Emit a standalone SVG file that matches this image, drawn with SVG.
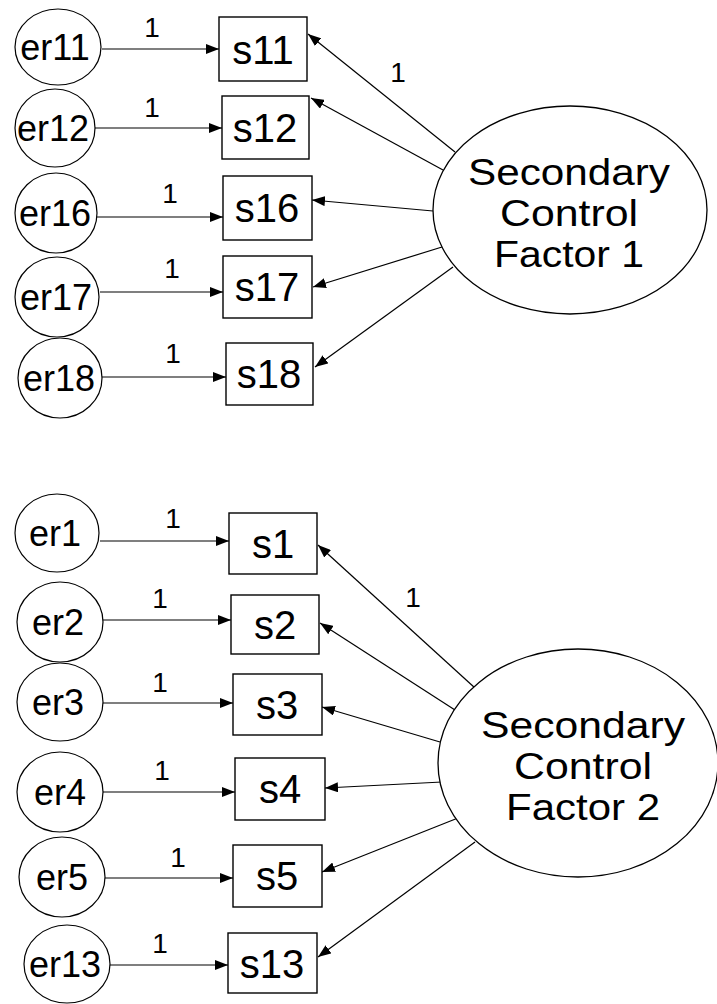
<svg xmlns="http://www.w3.org/2000/svg" width="717" height="1004" viewBox="0 0 717 1004">
<style>
.bg{fill:#fff}
.err ellipse{fill:#fff;stroke:#000;stroke-width:1.2}
.err text{font-family:"Liberation Sans",Arial,sans-serif;font-size:36px;text-anchor:middle;fill:#000}
.obs rect{fill:#fff;stroke:#000;stroke-width:1.4}
.obs text{font-family:"Liberation Sans",Arial,sans-serif;font-size:40px;text-anchor:middle;fill:#000}
.fac ellipse{fill:#fff;stroke:#000;stroke-width:1.3}
.fac text{font-family:"Liberation Sans",Arial,sans-serif;font-size:36px;text-anchor:middle;fill:#000}
.edges line{stroke:#000;stroke-width:1.2;marker-end:url(#ah)}
.lbl{font-family:"Liberation Sans",Arial,sans-serif;font-size:28px;text-anchor:middle;fill:#000}
</style>
<defs>
<marker id="ah" markerUnits="userSpaceOnUse" markerWidth="14" markerHeight="10" refX="13" refY="5" orient="auto">
<path d="M0,0 L13,5 L0,10 z" fill="#000"/>
</marker>
</defs>
<rect class="bg" x="0" y="0" width="717" height="1004"/>

<g id="connectors" class="edges">
<line x1="102" y1="49" x2="219" y2="49"/>
<line x1="95" y1="128" x2="222" y2="128"/>
<line x1="97" y1="217" x2="223" y2="217"/>
<line x1="100" y1="292" x2="223" y2="292"/>
<line x1="102" y1="377" x2="226" y2="377"/>
<line x1="455" y1="152" x2="308" y2="34"/>
<line x1="443" y1="170" x2="311" y2="98"/>
<line x1="433" y1="211" x2="312" y2="200"/>
<line x1="442" y1="247" x2="313" y2="287"/>
<line x1="453" y1="267" x2="315" y2="367"/>
<line x1="100" y1="541" x2="229" y2="541"/>
<line x1="103" y1="620" x2="231" y2="620"/>
<line x1="103" y1="703" x2="233" y2="703"/>
<line x1="103" y1="792" x2="235" y2="792"/>
<line x1="105" y1="878" x2="233" y2="878"/>
<line x1="110" y1="965" x2="228" y2="965"/>
<line x1="475" y1="688" x2="318" y2="545"/>
<line x1="455" y1="710" x2="320" y2="623"/>
<line x1="440" y1="742" x2="322" y2="707"/>
<line x1="442" y1="782" x2="325" y2="788"/>
<line x1="458" y1="818" x2="322" y2="872"/>
<line x1="475" y1="842" x2="318" y2="957"/>
</g>
<g id="edge-labels">
<text class="lbl" x="152" y="37">1</text>
<text class="lbl" x="152" y="117">1</text>
<text class="lbl" x="170" y="203">1</text>
<text class="lbl" x="172" y="278">1</text>
<text class="lbl" x="173" y="363">1</text>
<text class="lbl" x="398" y="82">1</text>
<text class="lbl" x="173" y="528">1</text>
<text class="lbl" x="160" y="608">1</text>
<text class="lbl" x="160" y="692">1</text>
<text class="lbl" x="162" y="780">1</text>
<text class="lbl" x="178" y="867">1</text>
<text class="lbl" x="160" y="953">1</text>
<text class="lbl" x="413" y="607">1</text>
</g>

<g id="er11" class="err"><ellipse cx="58" cy="47" rx="43" ry="38"/><text x="55" y="60">er11</text></g>
<g id="er12" class="err"><ellipse cx="55" cy="128" rx="40" ry="39"/><text x="53" y="141">er12</text></g>
<g id="er16" class="err"><ellipse cx="56" cy="213" rx="41" ry="40"/><text x="55" y="226">er16</text></g>
<g id="er17" class="err"><ellipse cx="57" cy="297" rx="42" ry="40"/><text x="56" y="310">er17</text></g>
<g id="er18" class="err"><ellipse cx="60" cy="378" rx="42" ry="40"/><text x="59" y="391">er18</text></g>

<g id="s11" class="obs"><rect x="219" y="17" width="88" height="64"/><text x="263" y="64">s11</text></g>
<g id="s12" class="obs"><rect x="222" y="96" width="87" height="63"/><text x="265" y="142">s12</text></g>
<g id="s16" class="obs"><rect x="223" y="176" width="89" height="64"/><text x="267" y="222">s16</text></g>
<g id="s17" class="obs"><rect x="223" y="256" width="89" height="62"/><text x="267" y="301">s17</text></g>
<g id="s18" class="obs"><rect x="226" y="343" width="87" height="62"/><text x="269" y="388">s18</text></g>

<g id="factor1" class="fac"><ellipse cx="570" cy="210" rx="137" ry="104"/>
<text x="569" y="185" textLength="202" lengthAdjust="spacingAndGlyphs">Secondary</text><text x="569" y="226" textLength="138" lengthAdjust="spacingAndGlyphs">Control</text><text x="569" y="267" textLength="150" lengthAdjust="spacingAndGlyphs">Factor 1</text></g>

<g id="er1" class="err"><ellipse cx="57" cy="533" rx="42" ry="39"/><text x="55" y="546">er1</text></g>
<g id="er2" class="err"><ellipse cx="60" cy="622" rx="43" ry="40"/><text x="58" y="635">er2</text></g>
<g id="er3" class="err"><ellipse cx="60" cy="702" rx="43" ry="39"/><text x="58" y="715">er3</text></g>
<g id="er4" class="err"><ellipse cx="60" cy="792" rx="43" ry="40"/><text x="60" y="805">er4</text></g>
<g id="er5" class="err"><ellipse cx="62" cy="877" rx="43" ry="40"/><text x="62" y="890">er5</text></g>
<g id="er13" class="err"><ellipse cx="67" cy="964" rx="43" ry="39"/><text x="65" y="977">er13</text></g>

<g id="s1" class="obs"><rect x="229" y="513" width="88" height="61"/><text x="273" y="558">s1</text></g>
<g id="s2" class="obs"><rect x="231" y="595" width="88" height="59"/><text x="275" y="639">s2</text></g>
<g id="s3" class="obs"><rect x="233" y="674" width="89" height="61"/><text x="277" y="719">s3</text></g>
<g id="s4" class="obs"><rect x="235" y="758" width="90" height="62"/><text x="280" y="803">s4</text></g>
<g id="s5" class="obs"><rect x="233" y="845" width="89" height="62"/><text x="277" y="890">s5</text></g>
<g id="s13" class="obs"><rect x="228" y="933" width="89" height="60"/><text x="272" y="978">s13</text></g>

<g id="factor2" class="fac"><ellipse cx="578" cy="763" rx="140" ry="114"/>
<text x="583" y="738" textLength="204" lengthAdjust="spacingAndGlyphs">Secondary</text><text x="583" y="779" textLength="138" lengthAdjust="spacingAndGlyphs">Control</text><text x="583" y="820" textLength="154" lengthAdjust="spacingAndGlyphs">Factor 2</text></g>
</svg>
